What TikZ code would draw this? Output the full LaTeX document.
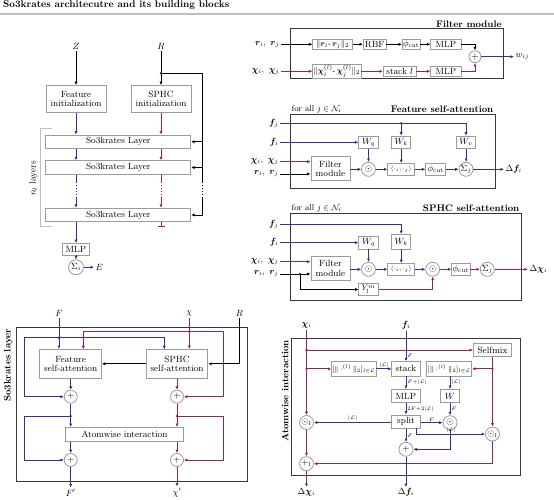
\documentclass[tikz,border=0pt]{standalone}
\usepackage{amsmath,amssymb,bm}
\usetikzlibrary{arrows.meta,calc}
\definecolor{cb}{RGB}{58,42,155}
\definecolor{cr}{RGB}{145,35,95}
\definecolor{gb}{RGB}{155,155,155}
\definecolor{fr}{RGB}{55,55,55}
\begin{document}
\begin{tikzpicture}[x=1pt,y=-1pt,>={Latex[length=3.4pt,width=3.2pt]},
  box/.style={draw=gb,line width=0.8pt,fill=white,inner sep=0.5pt,align=center,font=\fontsize{9}{9.5}\selectfont},
  circ/.style={draw=gb,circle,line width=0.8pt,fill=white,inner sep=0pt,minimum size=13pt,font=\fontsize{9}{10}\selectfont},
  lbl/.style={inner sep=1.5pt,font=\fontsize{9}{10}\selectfont},
  sml/.style={inner sep=1.5pt,font=\fontsize{8.5}{9}\selectfont},
  tny/.style={inner sep=0.8pt,font=\fontsize{4.5}{5}\selectfont},
  ttl/.style={inner sep=1.5pt,font=\fontsize{9.5}{10}\selectfont\bfseries},
  bl/.style={draw=cb,line width=1pt},
  rd/.style={draw=cr,line width=1pt},
  bk/.style={draw=black,line width=1pt},
  frm/.style={draw=fr,line width=1pt},
  dotseg/.style={dash pattern=on 0.9pt off 2.2pt,line width=1pt}
]
\useasboundingbox (0,0) rectangle (554,500);
% title
\node[anchor=west,inner sep=0pt,font=\fontsize{9.8}{11}\selectfont\bfseries] (title) at (3,5.5) {So3krates architecutre and its building blocks};
\draw[black!25,line width=1.5pt] (0,14) -- (554,14);

% ================= architecture =================
\node[lbl] (Z) at (76,46) {$Z$};
\node[lbl] (R) at (161,46) {$R$};
\node[box,minimum width=60pt,minimum height=27pt] (FI) at (76,98.9) {Feature\\initialization};
\node[box,minimum width=60pt,minimum height=27pt] (SI) at (161,98.9) {SPHC\\initialization};
\node[box,minimum width=145pt,minimum height=13.5pt] (L1) at (118.3,141.7) {So3krates Layer};
\node[box,minimum width=145pt,minimum height=13.5pt] (L2) at (118.3,167.5) {So3krates Layer};
\node[box,minimum width=145pt,minimum height=13.5pt] (L3) at (118.3,215) {So3krates Layer};
\draw[bk,->] (Z) -- (FI);
\draw[bk,->] (R) -- (SI);
\coordinate (Rd) at (161,73.3);
\coordinate (RV) at (202.7,73.3);
\fill (Rd) circle (1.3);
\draw[bk] (Rd) -- (RV) -- (202.7,183);
\draw[bk,dotseg] (202.7,184.5) -- (202.7,197);
\draw[bk] (202.7,197) -- (RV |- L3.east);
\draw[bk,->] (RV |- L1.east) -- (L1.east);
\draw[bk,->] (RV |- L2.east) -- (L2.east);
\draw[bk,->] (RV |- L3.east) -- (L3.east);
% blue column
\draw[bl,->] (FI) -- (FI |- L1.north);
\draw[bl,->] (FI |- L1.south) -- (FI |- L2.north);
\draw[bl] (FI |- L2.south) -- (76,183);
\draw[bl,dotseg] (76,184.5) -- (76,197);
\draw[bl,->] (76,197) -- (FI |- L3.north);
% red column
\draw[rd,->] (SI) -- (SI |- L1.north);
\draw[rd,->] (SI |- L1.south) -- (SI |- L2.north);
\draw[rd] (SI |- L2.south) -- (161,183);
\draw[rd,dotseg] (161,184.5) -- (161,197);
\draw[rd,->] (161,197) -- (SI |- L3.north);
\draw[rd,-{Bar[width=7pt]}] (SI |- L3.south) -- (161,227);
% bracket
\draw[black!25,line width=1pt] (52,129) -- (40.7,129) -- (40.7,226.7) -- (52,226.7);
\node[lbl,rotate=90] (nl) at (33.5,178.5) {$n_l$ layers};
% MLP and sum
\node[box,minimum width=27.6pt,minimum height=11.7pt] (MLP0) at (76,249.2) {MLP};
\node[circ,minimum size=15pt] (S0) at (76,267.3) {$\Sigma_i$};
\node[lbl,anchor=west] (E) at (94,267.3) {$E$};
\draw[bl,->] (FI |- L3.south) -- (MLP0);
\draw[bl,->] (MLP0) -- (S0);
\draw[bl,->] (S0) -- (E);

% ================= filter module =================
\draw[frm] (290.7,29) rectangle (503.3,78.3);
\node[ttl,anchor=south east] (fmt) at (503.3,29) {Filter module};
\node[lbl,anchor=east] (fr1) at (281,44.3) {$\bm r_i,\ \bm r_j$};
\node[box,minimum width=40pt,minimum height=10.5pt,font=\fontsize{8.5}{9}\selectfont] (f1) at (332.7,44.3) {$\|\bm r_i\text{-}\,\bm r_j\|_2$};
\node[box,minimum width=22.7pt,minimum height=10.5pt] (f2) at (374.65,44.3) {RBF};
\node[box,minimum width=17.7pt,minimum height=10.5pt] (f3) at (411.15,44.3) {$\phi_{\mathrm{cut}}$};
\node[box,minimum width=30.3pt,minimum height=10.5pt] (f4) at (445.85,44.3) {MLP};
\node[circ,minimum size=12pt,font=\fontsize{10}{10}\selectfont] (fp) at (475,56.7) {$+$};
\node[lbl,anchor=east] (fc1) at (281,71.3) {$\bm\chi_i,\ \bm\chi_j$};
\node[box,minimum width=48.3pt,minimum height=10.7pt,font=\fontsize{8}{8}\selectfont] (f5) at (336.85,71.3) {$\|\bm\chi_i^{(l)}\text{-}\,\bm\chi_j^{(l)}\|_2$};
\node[box,minimum width=32.7pt,minimum height=10.7pt] (f6) at (399.65,71.3) {stack $l$};
\node[box,minimum width=30.3pt,minimum height=10.7pt] (f7) at (445.85,71.3) {MLP};
\node[lbl,anchor=west] (wij) at (514,56.7) {$w_{ij}$};
\draw[bk,->] (fr1) -- (f1);
\draw[bk,->] (f1) -- (f2);
\draw[bk,->] (f2) -- (f3);
\draw[bk,->] (f3) -- (f4);
\draw[bk,->] (f4.east) -| (fp.north);
\draw[rd,->] (fc1) -- (f5);
\draw[rd,->] (f5) -- (f6);
\draw[rd,->] (f6) -- (f7);
\draw[rd,->] (f7.east) -| (fp.south);
\draw[bl,->] (fp) -- (wij);

% ================= feature self-attention =================
\draw[frm] (290,114.3) rectangle (495,188.3);
\node[sml,anchor=south west] (afa) at (290,114.3) {for all $j\in\mathcal{N}_i$};
\node[ttl,anchor=south east] (att) at (495,114.3) {Feature self-attention};
\node[lbl,anchor=east] (afj) at (280,123.3) {$\bm f_j$};
\node[lbl,anchor=east] (afi) at (280,142.3) {$\bm f_i$};
\node[lbl,anchor=east] (ach) at (280,161.7) {$\bm\chi_i,\ \bm\chi_j$};
\node[lbl,anchor=east] (ar) at (280,174) {$\bm r_i,\ \bm r_j$};
\node[box,minimum width=19.3pt,minimum height=12.3pt] (aWq) at (368.5,142.2) {$W_q$};
\node[box,minimum width=19.3pt,minimum height=12.3pt] (aWk) at (401.2,142.2) {$W_k$};
\node[box,minimum width=19.3pt,minimum height=12.3pt] (aWv) at (466,142.2) {$W_v$};
\node[box,minimum width=39pt,minimum height=24pt] (aF) at (330.5,168.7) {Filter\\module};
\node[circ,minimum size=14pt] (aO) at (368.5,169.3) {$\odot$};
\node[box,minimum width=26.7pt,minimum height=11.7pt,font=\fontsize{6}{6}\selectfont] (aIP) at (401.2,169.3) {$\langle\cdot_i,\cdot_j\rangle$};
\node[box,minimum width=20pt,minimum height=11.7pt] (aPh) at (435.7,169.3) {$\phi_{\mathrm{cut}}$};
\node[circ,minimum size=14pt] (aS) at (466,169.3) {$\Sigma_j$};
\node[lbl,anchor=west] (aOut) at (504,169.3) {$\Delta\bm f_i$};
\draw[bl,->] (afj.east) -| (aWv.north);
\fill[cb] (aWk |- afj.east) circle (1.3);
\draw[bl,->] (aWk |- afj.east) -- (aWk.north);
\draw[bl,->] (afi.east) -- (afi.east -| aWq.west);
\draw[rd,->] (ach.east) -- (ach.east -| aF.west);
\draw[bk,->] (ar.east) -- (ar.east -| aF.west);
\draw[bl,->] (aF.east |- aO) -- (aO);
\draw[bl,->] (aWq) -- (aO);
\draw[bl,->] (aO) -- (aIP);
\draw[bl,->] (aWk) -- (aIP);
\draw[bl,->] (aIP) -- (aPh);
\draw[bl,->] (aPh) -- (aS);
\draw[bl,->] (aWv) -- (aS);
\draw[bl,->] (aS) -- (aOut);

% ================= SPHC self-attention =================
\draw[frm] (290,213.3) rectangle (521,300);
\node[sml,anchor=south west] (bfa) at (290,213.3) {for all $j\in\mathcal{N}_i$};
\node[ttl,anchor=south east] (btt) at (521,213.3) {SPHC self-attention};
\node[lbl,anchor=east] (bfj) at (280,224) {$\bm f_j$};
\node[lbl,anchor=east] (bfi) at (280,242.7) {$\bm f_i$};
\node[lbl,anchor=east] (bch) at (280,261.7) {$\bm\chi_i,\ \bm\chi_j$};
\node[lbl,anchor=east] (br) at (280,274) {$\bm r_i,\ \bm r_j$};
\node[box,minimum width=19.3pt,minimum height=12.3pt] (bWq) at (368.5,242.8) {$W_q$};
\node[box,minimum width=19.3pt,minimum height=14.5pt] (bWk) at (401.2,241.7) {$W_k$};
\node[box,minimum width=39pt,minimum height=23.3pt] (bF) at (330.5,268.3) {Filter\\module};
\node[circ,minimum size=14pt] (bO1) at (368.5,269.3) {$\odot$};
\node[box,minimum width=26.7pt,minimum height=11.7pt,font=\fontsize{6}{6}\selectfont] (bIP) at (401.2,269.3) {$\langle\cdot_i,\cdot_j\rangle$};
\node[circ,minimum size=14pt] (bO2) at (432.7,269.3) {$\odot$};
\node[box,minimum width=18.3pt,minimum height=11.7pt] (bPh) at (460.85,269.3) {$\phi_{\mathrm{cut}}$};
\node[circ,minimum size=14pt] (bS) at (487.3,269.3) {$\Sigma_j$};
\node[lbl,anchor=west] (bOut) at (528,269.3) {$\Delta\bm\chi_i$};
\node[box,minimum width=19.3pt,minimum height=12pt,font=\fontsize{8}{8}\selectfont] (bY) at (368.5,289.5) {$Y_l^m$};
\coordinate (bRb) at (300,274);
\draw[bl,->] (bfj.east) -| (bWk.north);
\draw[bl,->] (bfi.east) -- (bfi.east -| bWq.west);
\draw[rd,->] (bch.east) -- (bch.east -| bF.west);
\draw[bk,->] (br.east) -- (br.east -| bF.west);
\fill (bRb) circle (1.2);
\draw[bk,->] (bRb) |- (bY.west);
\draw[bl,->] (bF.east |- bO1) -- (bO1);
\draw[bl,->] (bWq) -- (bO1);
\draw[bl,->] (bO1) -- (bIP);
\draw[bl,->] (bWk) -- (bIP);
\draw[bl,->] (bIP) -- (bO2);
\draw[rd,->] (bO2) -- (bPh);
\draw[rd,->] (bPh) -- (bS);
\draw[rd,->] (bS) -- (bOut);
\draw[rd,->] (bY.east) -| (bO2.south);

% ================= So3krates layer =================
\draw[frm] (16,327.3) rectangle (247.7,481);
\node[ttl,rotate=90,anchor=east] (slt) at (8.3,327.3) {So3krates layer};
\node[lbl] (cF) at (59,313.3) {$F$};
\node[lbl] (cX) at (189.3,313.3) {$\chi$};
\node[lbl] (cR) at (239.3,313.3) {$R$};
\node[box,minimum width=61.7pt,minimum height=29pt] (FSA) at (70.7,363.8) {Feature\\self-attention};
\node[box,minimum width=61.7pt,minimum height=29pt] (SSA) at (177,363.8) {SPHC\\self-attention};
\node[circ] (p1) at (70.7,396.7) {$+$};
\node[circ] (p2) at (177,396.7) {$+$};
\node[box,minimum width=117.7pt,minimum height=14.4pt] (AI) at (124.5,434.5) {Atomwise interaction};
\node[circ] (p3) at (70.7,460) {$+$};
\node[circ] (p4) at (177,460) {$+$};
\node[lbl] (cF2) at (70.7,492.7) {$F'$};
\node[lbl] (cX2) at (177,492.7) {$\chi'$};
% blue input
\coordinate (fd) at (59,337.7);
\draw[bl,->] (cF) -- (cF |- FSA.north);
\fill[cb] (fd) circle (1.3);
\draw[bl,->] (fd) -- (24,337.7) |- (p1.west);
\draw[bl,->] (fd) -| (164.3,349.3);
% red input
\coordinate (xd) at (189.3,331.7);
\draw[rd,->] (cX) -- (cX |- SSA.north);
\fill[cr] (xd) circle (1.3);
\draw[rd,->] (xd) -| (83.3,349.3);
\draw[rd,->] (xd) -- (223.3,331.7) |- (p2.east);
% R
\draw[bk,->] (cR) |- (SSA.east);
\draw[bk,->] (SSA.west) -- (FSA.east);
\draw[bl,->] (FSA) -- (p1);
\draw[rd,->] (SSA) -- (p2);
% second residual
\coordinate (fd2) at (70.7,416);
\coordinate (xd2) at (177,416);
\draw[bl,->] (p1) -- (p1 |- AI.north);
\fill[cb] (fd2) circle (1.3);
\draw[bl,->] (fd2) -- (24,416) |- (p3.west);
\draw[rd,->] (p2) -- (p2 |- AI.north);
\fill[cr] (xd2) circle (1.3);
\draw[rd,->] (xd2) -- (223.3,416) |- (p4.east);
\draw[bl,->] (p3 |- AI.south) -- (p3);
\draw[rd,->] (p4 |- AI.south) -- (p4);
\draw[bl,->] (p3) -- (cF2);
\draw[rd,->] (p4) -- (cX2);

% ================= Atomwise interaction =================
\draw[frm] (291,338.3) rectangle (520,475);
\node[ttl,rotate=90,anchor=east] (aitt) at (285,338.3) {Atomwise interaction};
\node[lbl] (dX) at (306.5,325) {$\bm\chi_i$};
\node[lbl] (dF) at (406,325) {$\bm f_i$};
\node[box,minimum width=38.3pt,minimum height=13.4pt] (SM) at (492.5,350) {Selfmix};
\node[box,minimum width=44.3pt,minimum height=14.3pt,font=\fontsize{7}{7}\selectfont] (N1) at (353.85,368.85) {$[\|\cdot^{(l)}\|_2]_{l\in\mathcal{L}}$};
\node[box,minimum width=28.3pt,minimum height=14.3pt] (ST) at (406,368.85) {stack};
\node[box,minimum width=45pt,minimum height=14.3pt,font=\fontsize{7}{7}\selectfont] (N2) at (449.2,368.85) {$[\|\cdot^{(l)}\|_2]_{l\in\mathcal{L}}$};
\node[box,minimum width=28.3pt,minimum height=13.4pt] (M2) at (406,396) {MLP};
\node[box,minimum width=18.3pt,minimum height=13.4pt] (W) at (450,396) {$W$};
\node[box,minimum width=28.3pt,minimum height=13.3pt] (SP) at (406,421.65) {split};
\node[circ,minimum size=14pt] (Oi) at (306.5,422.5) {$\odot_l$};
\node[circ,minimum size=14pt] (Om) at (450,422.7) {$\odot$};
\node[circ,minimum size=14pt] (Oj) at (492.5,434) {$\odot_l$};
\node[circ,minimum size=14pt] (Pf) at (406,449.3) {$+$};
\node[circ,minimum size=14pt] (Pi) at (306.5,463.7) {$+_l$};
\node[lbl] (dX2) at (306.5,492.7) {$\Delta\bm\chi_i$};
\node[lbl] (dF2) at (406,492.7) {$\Delta\bm f_i$};
% red
\coordinate (ad1) at (306.5,350);
\coordinate (ad2) at (306.5,368.85);
\coordinate (ad3) at (492.5,368.85);
\draw[rd,->] (dX) -- (Oi);
\fill[cr] (ad1) circle (1.3);
\fill[cr] (ad2) circle (1.3);
\draw[rd,->] (ad1) -- (SM.west);
\draw[rd,->] (ad2) -- (N1.west);
\draw[rd,->] (SM) -- (Oj);
\fill[cr] (ad3) circle (1.3);
\draw[rd,->] (ad3) -- (N2.east);
\draw[rd,->] (Oi) -- (Pi);
\draw[rd,->] (Oj) |- (Pi.east);
\draw[rd,->] (Pi) -- (dX2);
% blue
\draw[bl,->] (N1) -- (ST) node[tny,midway,above] {$|\mathcal{L}|$};
\draw[bl,->] (dF) -- (ST) node[tny,pos=0.82,right] {$F$};
\draw[bl,->] (ST) -- (M2) node[tny,midway,right] {$F{+}|\mathcal{L}|$};
\draw[bl,->] (M2) -- (SP) node[tny,midway,right] {$2F{+}2|\mathcal{L}|$};
\draw[bl,->] (N2.south -| W) -- (W) node[tny,midway,right] {$|\mathcal{L}|$};
\draw[bl,->] (W) -- (Om) node[tny,midway,right] {$F$};
\draw[bl,->] (SP.east |- Om) -- (Om) node[tny,midway,above] {$F$};
\draw[bl,->] (SP.west |- Oi) -- (Oi) node[tny,midway,above] {$|\mathcal{L}|$};
\draw[bl,->] (416.7,428.3) |- (Oj.west) node[tny,pos=0.75,above] {$|\mathcal{L}|$};
\draw[bl,->] (SP) -- (Pf) node[tny,midway,right] {$F$};
\draw[bl,->] (Om) |- (Pf.east);
\draw[bl,->] (Pf) -- (dF2);
\end{tikzpicture}
\end{document}
